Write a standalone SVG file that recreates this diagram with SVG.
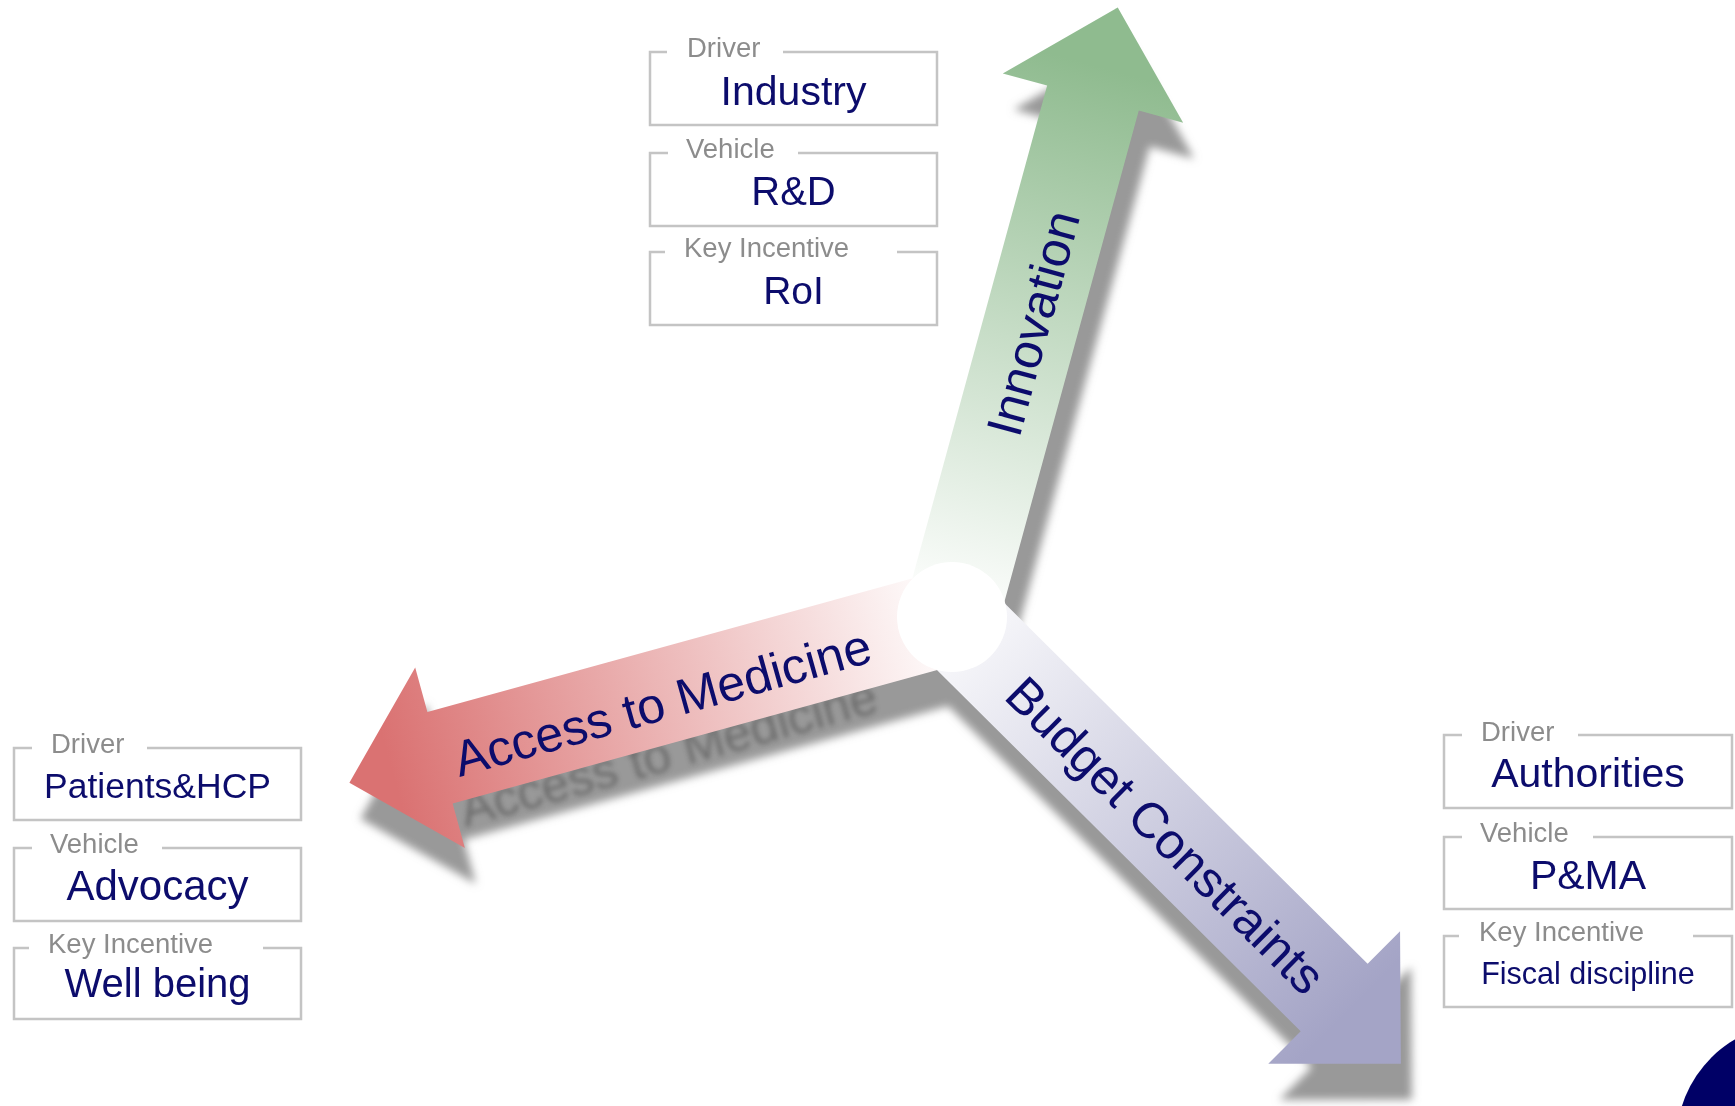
<svg xmlns="http://www.w3.org/2000/svg" xmlns:xlink="http://www.w3.org/1999/xlink" width="1735" height="1106" viewBox="0 0 1735 1106">
<style>
.box{fill:none;stroke:#c4c4c4;stroke-width:2.5}
.lbl{font-family:"Liberation Sans",Arial,sans-serif;font-size:27.5px;fill:#8c8c8c}
.val{font-family:"Liberation Sans",Arial,sans-serif;fill:#0c0c6c;text-anchor:middle}
.atext{font-family:"Liberation Sans",Arial,sans-serif;font-size:50px;text-anchor:middle}
</style>
<defs>
<linearGradient id="gG" gradientUnits="userSpaceOnUse" x1="0" y1="0" x2="570" y2="0">
<stop offset="0" stop-color="#ffffff"/><stop offset="1" stop-color="#8fbb8f"/>
</linearGradient>
<linearGradient id="gR" gradientUnits="userSpaceOnUse" x1="0" y1="0" x2="580" y2="0">
<stop offset="0" stop-color="#ffffff"/><stop offset="1" stop-color="#da7272"/>
</linearGradient>
<linearGradient id="gB" gradientUnits="userSpaceOnUse" x1="-30" y1="0" x2="560" y2="0">
<stop offset="0" stop-color="#ffffff"/><stop offset="1" stop-color="#a4a4c6"/>
</linearGradient>
<filter id="blur" x="-10%" y="-10%" width="120%" height="120%"><feGaussianBlur stdDeviation="4"/></filter>
<filter id="blur2" x="-10%" y="-10%" width="120%" height="120%"><feGaussianBlur stdDeviation="2.5"/></filter>
<path id="shapeG" transform="translate(951,617) rotate(-74.7)" d="M0,-47.5 H538 V-93.5 L632,0 L538,93.5 V47.5 H0 Z"/>
<path id="shapeR" transform="translate(951,617) rotate(164.6)" d="M0,-47.5 H530 V-93.5 L624,0 L530,93.5 V47.5 H0 Z"/>
<path id="shapeB" transform="translate(951,617) rotate(44.8)" d="M0,-47.5 H540 V-93.5 L634,0 L540,93.5 V47.5 H0 Z"/>
<text id="tAccess" class="atext" font-size="53.5" transform="translate(951,617) rotate(-15.6)" x="-301" y="22">Access to Medicine</text>
</defs>

<g id="shadows">
<g fill="#999999" filter="url(#blur)" transform="translate(11,36)">
<use xlink:href="#shapeG"/>
<use xlink:href="#shapeR"/>
<use xlink:href="#shapeB"/>
</g>
<use xlink:href="#tAccess" fill="#4a4a4a" opacity="0.55" filter="url(#blur2)" transform="translate(6,50)"/>
</g>

<g id="connectors">
<g id="arrow-innovation">
<use xlink:href="#shapeG" fill="url(#gG)"/>
</g>
<g id="arrow-access">
<use xlink:href="#shapeR" fill="url(#gR)"/>
</g>
<g id="arrow-budget">
<use xlink:href="#shapeB" fill="url(#gB)"/>
</g>
</g>

<g id="hub"><circle cx="952" cy="617" r="55" fill="#ffffff"/></g>

<g id="arrow-labels" fill="#0c0c6c">
<text class="atext" transform="translate(951,617) rotate(-74.7)" x="305" y="19">Innovation</text>
<use xlink:href="#tAccess"/>
<text class="atext" font-size="53" transform="translate(951,617) rotate(44.8)" x="306" y="21">Budget Constraints</text>
</g>

<g id="industry-driver">
<path class="box" d="M783,52 H937 V125 H650 V52 H667"/>
<text class="lbl" x="687" y="57">Driver</text>
<text class="val" x="793.5" y="105" font-size="41">Industry</text>
</g>
<g id="industry-vehicle">
<path class="box" d="M798,153 H937 V226 H650 V153 H668"/>
<text class="lbl" x="686" y="158">Vehicle</text>
<text class="val" x="793.5" y="205" font-size="40">R&amp;D</text>
</g>
<g id="industry-incentive">
<path class="box" d="M897,252 H937 V325 H650 V252 H665"/>
<text class="lbl" x="684" y="257">Key Incentive</text>
<text class="val" x="793.5" y="303.5" font-size="39">RoI</text>
</g>

<g id="patients-driver">
<path class="box" d="M147,748 H301 V820 H14 V748 H32"/>
<text class="lbl" x="51" y="753">Driver</text>
<text class="val" x="157.5" y="797.5" font-size="35.5">Patients&amp;HCP</text>
</g>
<g id="patients-vehicle">
<path class="box" d="M162,848 H301 V921 H14 V848 H32"/>
<text class="lbl" x="50" y="853">Vehicle</text>
<text class="val" x="157.5" y="900" font-size="42">Advocacy</text>
</g>
<g id="patients-incentive">
<path class="box" d="M263,948 H301 V1019 H14 V948 H29"/>
<text class="lbl" x="48" y="953">Key Incentive</text>
<text class="val" x="157.5" y="997" font-size="40">Well being</text>
</g>

<g id="authorities-driver">
<path class="box" d="M1578,735 H1732 V808 H1444 V735 H1462"/>
<text class="lbl" x="1481" y="741">Driver</text>
<text class="val" x="1588" y="787" font-size="41">Authorities</text>
</g>
<g id="authorities-vehicle">
<path class="box" d="M1593,837 H1732 V909 H1444 V837 H1462"/>
<text class="lbl" x="1480" y="842">Vehicle</text>
<text class="val" x="1588" y="888.5" font-size="41">P&amp;MA</text>
</g>
<g id="authorities-incentive">
<path class="box" d="M1693,936 H1732 V1007 H1444 V936 H1459"/>
<text class="lbl" x="1479" y="941">Key Incentive</text>
<text class="val" x="1588" y="983.5" font-size="30.5">Fiscal discipline</text>
</g>

<g id="corner-mark"><circle cx="1797" cy="1143" r="121" fill="#000066"/></g>
</svg>
